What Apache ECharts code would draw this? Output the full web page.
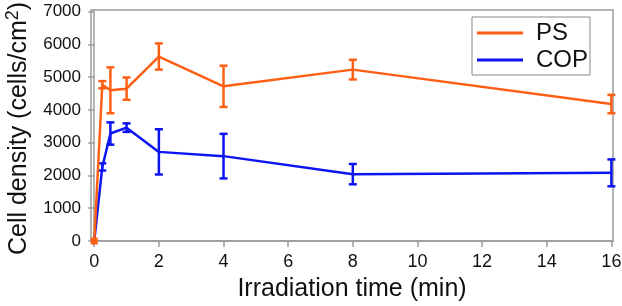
<!DOCTYPE html>
<html><head><meta charset="utf-8">
<script src="https://cdn.jsdelivr.net/npm/echarts@6/dist/echarts.min.js"></script>
<style>html,body{margin:0;padding:0;background:#fff}#c{width:622px;height:306px}</style>
</head><body><div id="c"></div>
<script>
var times = [0, 0.25, 0.5, 1, 2, 4, 8, 16];
var psMean = [0, 4770, 4600, 4650, 5630, 4720, 5230, 4180];
var psErr = [0, 110, 700, 340, 400, 630, 300, 280];
var copMean = [0, 2260, 3280, 3460, 2720, 2590, 2040, 2080];
var copErr = [0, 110, 340, 130, 690, 680, 310, 410];
var xTicks = [0, 2, 4, 6, 8, 10, 12, 14, 16];
var yTicks = [0, 1000, 2000, 3000, 4000, 5000, 6000, 7000];

var PS_COLOR = '#ff5f15', COP_COLOR = '#0c14f2';
var FONT = 'Liberation Sans, Arial, sans-serif';

function pairs(m){ return times.map(function(t,i){ return [t, m[i]]; }); }
function errData(m,e){ return times.map(function(t,i){ return [t, m[i]-e[i], m[i]+e[i]]; }).filter(function(d,i){return e[i]>0;}); }
function errSeries(m,e,color){
  return {
    type:'custom', silent:true, z:5,
    data: errData(m,e),
    renderItem: function(params, api){
      var x = api.value(0);
      var lo = api.coord([x, api.value(1)]);
      var hi = api.coord([x, api.value(2)]);
      var w = 4;
      var st = {stroke: color, lineWidth: 2.5, fill: null};
      return {type:'group', children:[
        {type:'line', shape:{x1:lo[0],y1:lo[1],x2:hi[0],y2:hi[1]}, style:st},
        {type:'line', shape:{x1:lo[0]-w,y1:lo[1],x2:lo[0]+w,y2:lo[1]}, style:st},
        {type:'line', shape:{x1:hi[0]-w,y1:hi[1],x2:hi[0]+w,y2:hi[1]}, style:st}
      ]};
    }
  };
}

var chart = echarts.init(document.getElementById('c'));
chart.setOption({
  animation:false,
  textStyle:{fontFamily:FONT},
  grid:{left:91, right:9, top:10, bottom:65, show:true, borderColor:'#9a9a9a', borderWidth:1.5,
    containLabel:false, outerBoundsMode:'none'},
  legend:{
    orient:'vertical', left:472, top:17, padding:[4,2,3,5], itemGap:3,
    itemWidth:46, itemHeight:3, icon:'rect',
    borderColor:'#888', borderWidth:1,
    textStyle:{fontSize:24, color:'#111', fontFamily:FONT, padding:[0,0,0,8]},
    data:['PS','COP']
  },
  xAxis:{
    type:'value', min:-0.1, max:16.05,
    name:'Irradiation time (min)', nameLocation:'middle', nameGap:36,
    nameTextStyle:{fontSize:25, color:'#111', fontFamily:FONT},
    axisLine:{lineStyle:{color:'#9a9a9a', width:1.5}},
    axisTick:{show:true, length:6, customValues: xTicks, lineStyle:{color:'#9a9a9a', width:1.5}},
    axisLabel:{fontSize:18, color:'#111', margin:12, fontFamily:FONT, customValues: xTicks},
    splitLine:{show:false}
  },
  yAxis:{
    type:'value', min:0, max:7050,
    name:'Cell density (cells/cm{sup|2})', nameLocation:'middle', nameGap:57,
    nameTextStyle:{fontSize:25, color:'#111', fontFamily:FONT, padding:[0,6,0,0],
      rich:{sup:{fontSize:18, color:'#111', fontFamily:FONT, verticalAlign:'top', padding:[0,0,12,0]}}},
    axisLine:{show:true, lineStyle:{color:'#9a9a9a', width:1.5}},
    axisTick:{show:true, length:6, customValues: yTicks, lineStyle:{color:'#9a9a9a', width:1.5}},
    axisLabel:{fontSize:17, color:'#111', margin:10, fontFamily:FONT, customValues: yTicks,
      formatter:function(v){ return String(v); }},
    splitLine:{show:false}
  },
  series:[
    {name:'PS', type:'line', data:pairs(psMean), color:PS_COLOR, z:6,
      lineStyle:{width:2.5, color:PS_COLOR},
      symbol:'rect', showAllSymbol:true,
      symbolSize:function(v,p){ return p.dataIndex===0?7:0; },
      itemStyle:{color:PS_COLOR}},
    {name:'COP', type:'line', data:pairs(copMean), color:COP_COLOR, z:4,
      lineStyle:{width:2.5, color:COP_COLOR},
      symbol:'none', itemStyle:{color:COP_COLOR}},
    errSeries(psMean, psErr, PS_COLOR),
    errSeries(copMean, copErr, COP_COLOR)
  ]
});
</script></body></html>
